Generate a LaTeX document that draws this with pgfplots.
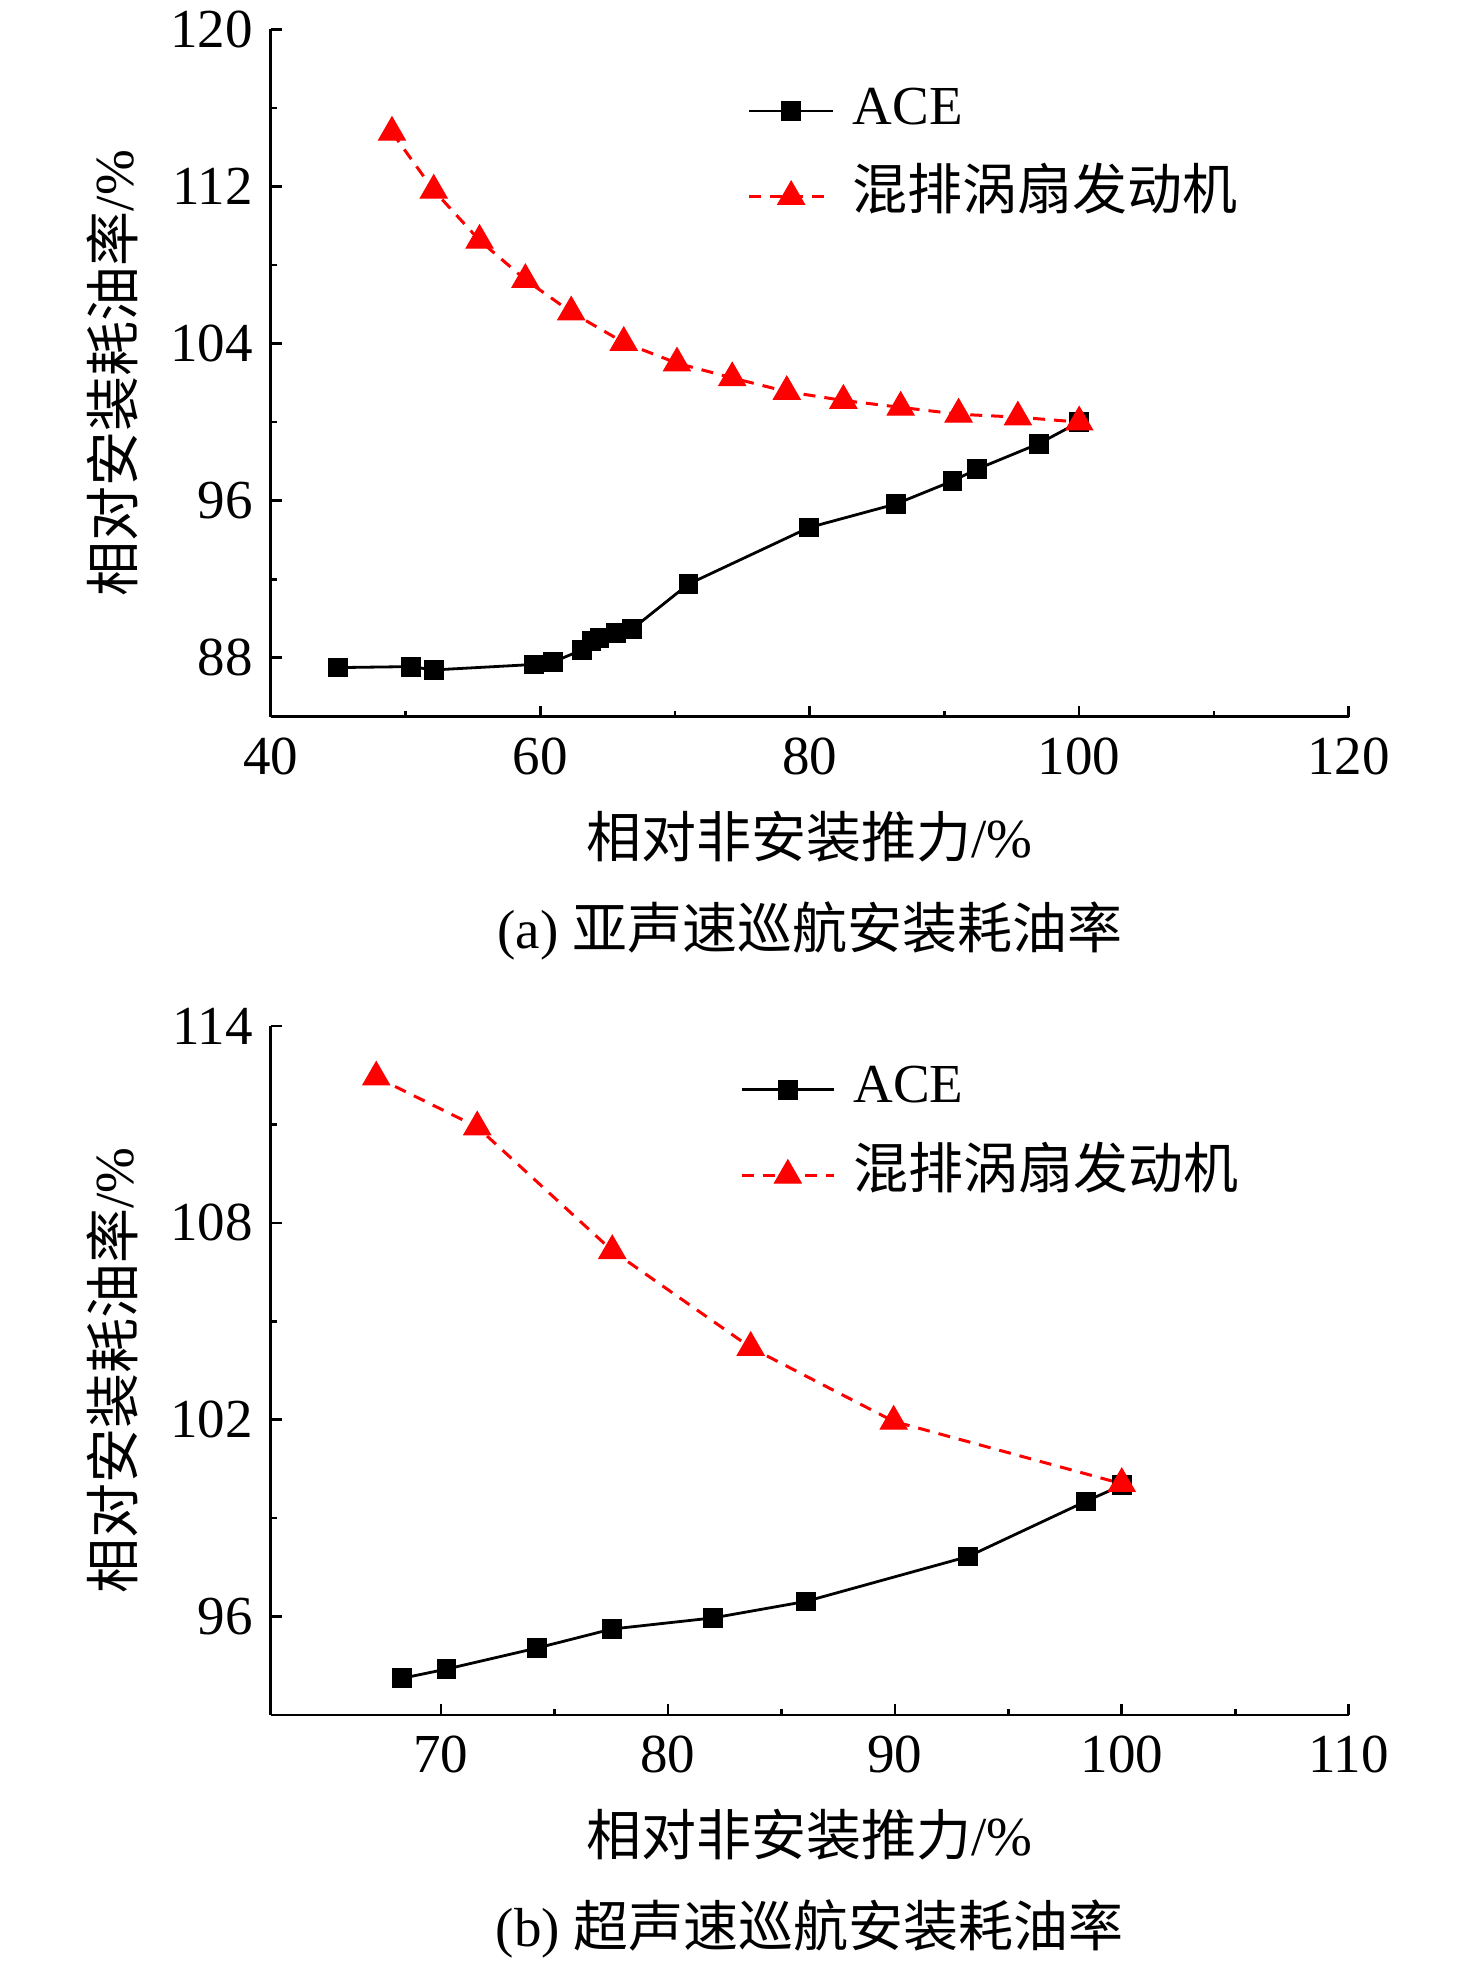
\documentclass[border=0pt]{standalone}
\usepackage{fontspec}
\setmainfont{Liberation Serif}
\newfontfamily\cjk{Noto Sans CJK SC}
\usepackage{pgfplots}
\pgfplotsset{compat=1.18}
\newcommand\bigf{\fontsize{27.5}{33}\selectfont}

\pgfplotstableread{
x y
45.0 87.50
50.4 87.55
52.1 87.38
59.55 87.66
60.95 87.78
63.1 88.40
63.8 88.85
64.4 89.00
65.6 89.25
66.8 89.45
71.0 91.75
79.95 94.63
86.4 95.83
90.6 97.00
92.4 97.60
97.0 98.90
100 100
}\aceA
\pgfplotstableread{
x y
49.0 114.75
52.1 111.80
55.5 109.25
58.9 107.25
62.3 105.60
66.2 104.05
70.15 103.00
74.25 102.25
78.3 101.55
82.5 101.10
86.75 100.75
91.05 100.40
95.45 100.25
100 100
}\mixA
\pgfplotstableread{
x y
68.3 94.12
70.25 94.40
74.23 95.04
77.53 95.62
82.0 95.96
86.07 96.46
93.23 97.83
98.41 99.51
100 100
}\aceB
\pgfplotstableread{
x y
67.15 112.44
71.6 110.92
77.55 107.15
83.65 104.20
89.95 101.95
100 100.05
}\mixB

\pgfplotsset{
 mystyle/.style={
  scale only axis, width=539pt,
  axis lines*=left, axis line style={-, line width=1.3pt},
  tick align=inside, major tick length=5.5pt, minor tick length=3pt,
  every tick/.style={black, line width=1.3pt},
  minor tick num=1,
  /pgf/number format/assume math mode=true,
  tick label style={font=\bigf},
  yticklabel style={xshift=-5.5pt},
  xticklabel style={yshift=-7pt},
  label style={font=\bigf},
  ylabel style={at={(axis description cs:-0.147,0.5)}, anchor=center},
  legend style={draw=none, fill=none, font=\bigf, inner sep=0pt,
    row sep=15.8pt, column sep=9pt,
    nodes={inner sep=0pt, text height=20pt, text depth=7pt}},
  legend cell align=left,
  clip=false,
 },
 ace/.style={black, line width=1.4pt, mark=square*, mark size=4.7pt, mark options={solid, line width=0.5pt}},
 mix/.style={red, line width=1.5pt, dash pattern=on 6pt off 4.5pt, mark=triangle*, mark size=7.8pt, mark options={solid, line width=0.5pt}},
}

\begin{document}
\begin{tikzpicture}
\useasboundingbox (0,0) rectangle (738pt,982pt);
\begin{axis}[mystyle,
  at={(135.35pt,623.65pt)}, anchor=south west, height=343.7pt,
  xmin=40, xmax=120, ymin=85, ymax=120,
  xtick={40,60,80,100,120}, ytick={88,96,104,112,120},
  xlabel={{\cjk 相对非安装推力}/\%},
  ylabel={{\cjk 相对安装耗油率}/\%},
  xlabel style={at={(axis description cs:0.5,-0.1750)}, anchor=center},
  legend image code/.code={\draw[mark repeat=2,mark phase=2,#1] plot coordinates {(0pt,0pt) (21pt,0pt) (42pt,0pt)};},
  legend style={at={(axis description cs:0.4421,0.9209)}, anchor=north west},
]
\addplot[ace] table {\aceA};
\addlegendentry{ACE}
\addplot[mix] table {\mixA};
\addlegendentry{{\cjk 混排涡扇发动机}}
\node[font=\bigf] at (axis description cs:0.5,-0.3116) {(a) {\cjk 亚声速巡航安装耗油率}};
\end{axis}

\begin{axis}[mystyle,
  at={(135.35pt,124.5pt)}, anchor=south west, height=344.5pt,
  xmin=62.5, xmax=110, ymin=93, ymax=114,
  xtick={70,80,90,100,110}, ytick={96,102,108,114},
  xlabel={{\cjk 相对非安装推力}/\%},
  ylabel={{\cjk 相对安装耗油率}/\%},
  xlabel style={at={(axis description cs:0.5,-0.1730)}, anchor=center},
  legend image code/.code={\draw[mark repeat=2,mark phase=2,#1] plot coordinates {(0pt,0pt) (23pt,0pt) (46pt,0pt)};},
  legend style={at={(axis description cs:0.4353,0.9472)}, anchor=north west},
]
\addplot[ace] table {\aceB};
\addlegendentry{ACE}
\addplot[mix] table {\mixB};
\addlegendentry{{\cjk 混排涡扇发动机}}
\node[font=\bigf] at (axis description cs:0.5,-0.3106) {(b) {\cjk 超声速巡航安装耗油率}};
\end{axis}
\end{tikzpicture}
\end{document}
